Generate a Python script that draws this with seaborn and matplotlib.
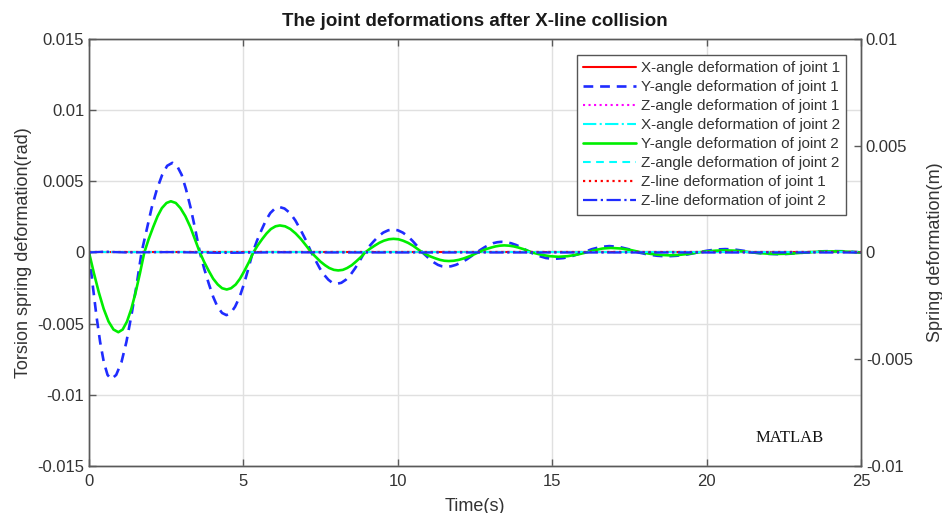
import matplotlib
matplotlib.use("Agg")
import matplotlib.pyplot as plt
import seaborn as sns

# Y-angle deformation of joint 2 (rad)
t_y2 = [0, 0.158, 0.317, 0.475, 0.633, 0.792, 0.95, 1.09, 1.23, 1.37, 1.51, 1.65, 1.79,
        1.93, 2.08, 2.22, 2.36, 2.51, 2.65, 2.81, 2.96, 3.12, 3.28, 3.43, 3.59,
        3.73, 3.88, 4.02, 4.17, 4.31, 4.46, 4.60, 4.75, 4.89, 5.03, 5.18, 5.32,
        5.46, 5.61, 5.75, 5.89, 6.04, 6.18, 6.35, 6.52, 6.69, 6.86, 7.03, 7.2,
        7.35, 7.49, 7.64, 7.78, 7.93, 8.07, 8.22, 8.36, 8.51, 8.65, 8.80, 8.94,
        9.09, 9.25, 9.40, 9.55, 9.71, 9.86, 10.02, 10.17, 10.33, 10.49, 10.64, 10.8,
        10.94, 11.08, 11.23, 11.37, 11.51, 11.65, 11.81, 11.97, 12.13, 12.28, 12.44, 12.6,
        12.74, 12.88, 13.03, 13.17, 13.31, 13.45, 13.6, 13.75, 13.9, 14.05, 14.2, 14.35,
        14.63, 14.92, 15.2, 15.5, 15.8, 16.1,
        16.37, 16.63, 16.9, 17.23, 17.57, 17.9,
        18.2, 18.5, 18.8, 19.1, 19.4, 19.7,
        20.0, 20.3, 20.6, 20.9, 21.2, 21.5,
        21.77, 22.03, 22.3, 22.6, 22.9, 23.2,
        23.5, 23.8, 24.1, 24.4, 24.7, 25]
v_y2 = [0, -0.00145, -0.0028, -0.00396, -0.00485, -0.00541, -0.0056,
        -0.00541, -0.00485, -0.00396, -0.0028, -0.00145, 0,
        0.00093, 0.0018, 0.00255, 0.00312, 0.00348, 0.0036,
        0.00348, 0.00312, 0.00255, 0.0018, 0.00093, 0,
        -0.00067, -0.0013, -0.00184, -0.00225, -0.00251, -0.0026,
        -0.00251, -0.00225, -0.00184, -0.0013, -0.00067, 0,
        0.00049, 0.00095, 0.00134, 0.00165, 0.00184, 0.0019,
        0.00184, 0.00165, 0.00134, 0.00095, 0.00049, 0,
        -0.00033, -0.00063, -0.00089, -0.00109, -0.00122, -0.00126,
        -0.00122, -0.00109, -0.00089, -0.00063, -0.00033, 0,
        0.00025, 0.00048, 0.00068, 0.00083, 0.00093, 0.00096,
        0.00093, 0.00083, 0.00068, 0.00048, 0.00025, 0,
        -0.00016, -0.0003, -0.00042, -0.00052, -0.00058, -0.0006,
        -0.00058, -0.00052, -0.00042, -0.0003, -0.00016, 0,
        0.00013, 0.00025, 0.00035, 0.00043, 0.00048, 0.0005,
        0.00048, 0.00043, 0.00035, 0.00025, 0.00013, 0,
        -0.00015, -0.00026, -0.0003, -0.00026, -0.00015, 0,
        0.00016, 0.00028, 0.00032, 0.00028, 0.00016, 0,
        -0.0001, -0.00017, -0.0002, -0.00017, -0.0001, 0,
        0.000075, 0.00013, 0.00015, 0.00013, 0.000075, 0,
        -0.00005, -0.000087, -0.0001, -0.000087, -0.00005, 0,
        0.00004, 0.00007, 0.00008, 0.00007, 0.00004, 0]

# Y-angle deformation of joint 1 (rad)
t_y1 = [0, 0.12, 0.24, 0.36, 0.48, 0.60, 0.72, 0.88, 1.05, 1.21, 1.37, 1.54, 1.70,
        1.87, 2.03, 2.2, 2.37, 2.53, 2.7, 2.85, 3.0, 3.14, 3.29, 3.44, 3.59,
        3.73, 3.88, 4.02, 4.16, 4.31, 4.45, 4.59, 4.73, 4.88, 5.02, 5.16, 5.3,
        5.44, 5.59, 5.73, 5.87, 6.02, 6.16, 6.33, 6.51, 6.68, 6.85, 7.03, 7.2,
        7.34, 7.47, 7.61, 7.75, 7.88, 8.02, 8.17, 8.32, 8.47, 8.62, 8.77, 8.92,
        9.07, 9.23, 9.38, 9.53, 9.69, 9.84, 10.0, 10.16, 10.32, 10.48, 10.64, 10.8,
        10.93, 11.05, 11.18, 11.3, 11.43, 11.55, 11.72, 11.88, 12.05, 12.22, 12.38, 12.55,
        12.68, 12.82, 12.95, 13.08, 13.22, 13.35, 13.51, 13.67, 13.83, 13.98, 14.14, 14.3,
        14.55, 14.8, 15.05, 15.37, 15.68, 16.0,
        16.28, 16.57, 16.85, 17.17, 17.48, 17.8,
        18.1, 18.4, 18.7, 19.03, 19.37, 19.7,
        20.0, 20.3, 20.6, 20.9, 21.2, 21.5,
        21.77, 22.03, 22.3, 22.6, 22.9, 23.2,
        23.5, 23.8, 24.1, 24.4, 24.7, 25]
v_y1 = [0, -0.0023, -0.00445, -0.00629, -0.00771, -0.0086, -0.0089,
        -0.0086, -0.00771, -0.00629, -0.00445, -0.0023, 0,
        0.00163, 0.00315, 0.00445, 0.00546, 0.00609, 0.0063,
        0.00609, 0.00546, 0.00445, 0.00315, 0.00163, 0,
        -0.00114, -0.0022, -0.00311, -0.00381, -0.00425, -0.0044,
        -0.00425, -0.00381, -0.00311, -0.0022, -0.00114, 0,
        0.00083, 0.0016, 0.00226, 0.00277, 0.00309, 0.0032,
        0.00309, 0.00277, 0.00226, 0.0016, 0.00083, 0,
        -0.00057, -0.0011, -0.00156, -0.00191, -0.00213, -0.0022,
        -0.00213, -0.00191, -0.00156, -0.0011, -0.00057, 0,
        0.00042, 0.00081, 0.00115, 0.0014, 0.00156, 0.00162,
        0.00156, 0.0014, 0.00115, 0.00081, 0.00042, 0,
        -0.00026, -0.0005, -0.00071, -0.00087, -0.00097, -0.001,
        -0.00097, -0.00087, -0.00071, -0.0005, -0.00026, 0,
        0.00019, 0.00038, 0.00053, 0.00065, 0.00072, 0.00075,
        0.00072, 0.00065, 0.00053, 0.00038, 0.00019, 0,
        -0.00023, -0.00039, -0.00045, -0.00039, -0.00023, 0,
        0.00023, 0.00039, 0.00045, 0.00039, 0.00023, 0,
        -0.00014, -0.00023, -0.00027, -0.00023, -0.00014, 0,
        0.00012, 0.00021, 0.00024, 0.00021, 0.00012, 0,
        -0.00006, -0.0001, -0.00012, -0.0001, -0.00006, 0,
        0.00005, 0.000087, 0.0001, 0.000087, 0.00005, 0]

# Components that stay essentially at zero
t_flat = [0, 25]
v_x1 = [0, 0]
v_z1 = [0, 0]
v_x2 = [0, 0]
v_z2 = [0, 0]

# Linear spring deformations (m), right axis
t_lin = [0, 0.5, 1.2, 2.6, 4.4, 6.2, 8.0, 25]
v_zline1 = [0, 0, 0, 0, 0, 0, 0, 0]
v_zline2 = [0, 0.00004, 0, 0.00002, -0.00002, 0.00001, 0, 0]

x_ticks = [0, 5, 10, 15, 20, 25]
left_ticks = [-0.015, -0.01, -0.005, 0, 0.005, 0.01, 0.015]
left_labels = ["-0.015", "-0.01", "-0.005", "0", "0.005", "0.01", "0.015"]
right_ticks = [-0.01, -0.005, 0, 0.005, 0.01]
right_labels = ["-0.01", "-0.005", "0", "0.005", "0.01"]

sns.set_theme(style="white")
plt.rcParams["font.family"] = ["Liberation Sans Narrow", "Liberation Sans", "DejaVu Sans"]

fig = plt.figure(figsize=(9.42, 5.13), dpi=100)
ax = fig.add_axes([0.0945, 0.0916, 0.8195, 0.8324])
ax2 = ax.twinx()

RED = "#ff0000"
BLUE = "#1f2cff"
MAG = "#ff00ff"
CYAN = "#00ffff"
GREEN = "#00ee00"

lines = []
def draw(axis, t, v, color, ls, lw, label):
    sns.lineplot(x=t, y=v, ax=axis, color=color, linestyle=ls, linewidth=lw,
                 sort=False, estimator=None, label=label, legend=False)
    return axis.get_lines()[-1]

lines.append(draw(ax, t_flat, v_x1, RED, "-", 1.5, "X-angle deformation of joint 1"))
lines.append(draw(ax, t_y1, v_y1, BLUE, (0, (3.7, 2.6)), 1.9, "Y-angle deformation of joint 1"))
lines.append(draw(ax, t_flat, v_z1, MAG, ":", 1.5, "Z-angle deformation of joint 1"))
lines.append(draw(ax, t_flat, v_x2, CYAN, "-.", 1.5, "X-angle deformation of joint 2"))
lines.append(draw(ax, t_y2, v_y2, GREEN, "-", 1.9, "Y-angle deformation of joint 2"))
lines.append(draw(ax, t_flat, v_z2, CYAN, (0, (3.7, 2.6)), 1.5, "Z-angle deformation of joint 2"))
lines.append(draw(ax2, t_lin, v_zline1, RED, ":", 1.6, "Z-line deformation of joint 1"))
lines.append(draw(ax2, t_lin, v_zline2, BLUE, "-.", 1.6, "Z-line deformation of joint 2"))
for ln in lines:
    ln.set_solid_joinstyle("round")
    ln.set_dash_joinstyle("round")

TXT = "#333333"
SP = "#5a5a5a"
ax.set_xlim(0, 25)
ax.set_ylim(-0.015, 0.015)
ax2.set_ylim(-0.01, 0.01)
ax.set_xticks(x_ticks)
ax.set_xticklabels([str(x) for x in x_ticks])
ax.set_yticks(left_ticks)
ax.set_yticklabels(left_labels)
ax2.set_yticks(right_ticks)
ax2.set_yticklabels(right_labels)

ax.grid(True, color="#e0e0e0", linewidth=1.0)
ax.set_axisbelow(True)
for a in (ax, ax2):
    for s in a.spines.values():
        s.set_color(SP)
        s.set_linewidth(1.0)
ax.tick_params(axis="both", direction="in", length=5, width=1, color=SP,
               labelsize=12, labelcolor=TXT, top=True, bottom=True, left=True, right=False)
ax2.tick_params(axis="y", direction="in", length=5, width=1, color=SP,
                labelsize=12, labelcolor=TXT)
ax.tick_params(axis="x", pad=6)

ax.set_title("The joint deformations after X-line collision", fontsize=13.5,
             fontweight="bold", color="#1a1a1a", pad=9)
ax.set_xlabel("Time(s)", fontsize=13, color=TXT, labelpad=6)
ax.set_ylabel("Torsion spring deformation(rad)", fontsize=13, color=TXT, labelpad=4)
ax2.set_ylabel("Spring deformation(m)", fontsize=13, color=TXT, labelpad=10)

ax.text(0.907, 0.066, "MATLAB", transform=ax.transAxes, ha="center", va="center",
        fontsize=12, family=["Liberation Serif", "DejaVu Serif"], color="#111111")

leg = ax2.legend(handles=lines, loc="upper right", bbox_to_anchor=(0.9806, 0.9625),
                 borderaxespad=0, fontsize=11, handlelength=3.5, handletextpad=0.3,
                 labelspacing=0.33, borderpad=0.4, frameon=True, fancybox=False,
                 edgecolor="#555555", framealpha=1)
leg.get_frame().set_linewidth(1.0)
for txt in leg.get_texts():
    txt.set_color(TXT)

fig.savefig("out.png", dpi=100)
